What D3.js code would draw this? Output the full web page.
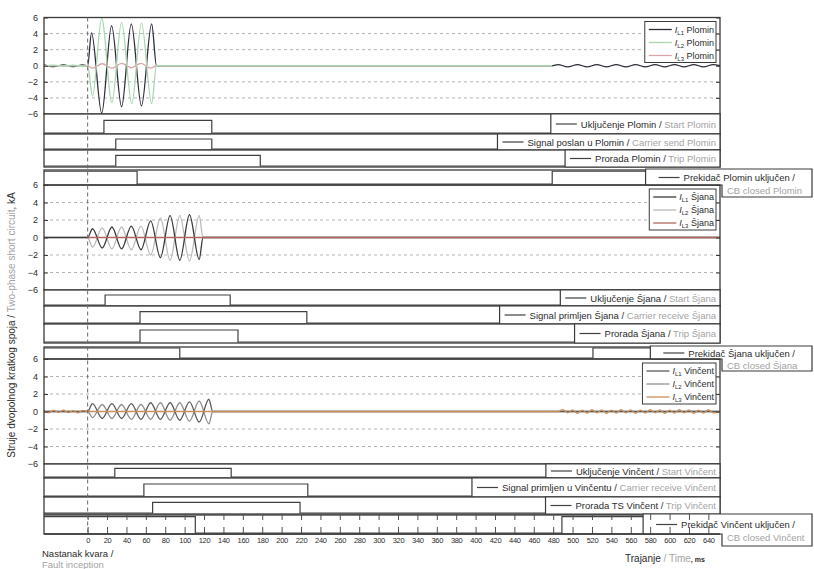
<!DOCTYPE html>
<html>
<head>
<meta charset="utf-8">
<script src="https://cdn.jsdelivr.net/npm/d3@7"></script>
<style>
body { margin:0; background:#fff; }
svg { font-family:'Liberation Sans', Arial, sans-serif; }
</style>
</head>
<body>
<svg id="chart" width="814" height="569"></svg>
<script>

// time axis, ms
var timeDomain = [-45, 652];
var timeTicks = [0,20,40,60,80,100,120,140,160,180,200,220,240,260,280,300,320,340,360,380,400,420,440,460,480,500,520,540,560,580,600,620,640];

// current axis, kA
var currentDomain = [-6, 6];
var currentTicks = [-6,-4,-2,0,2,4,6];
var currentGrid = [-4,-2,2,4];

var stationNames = ['Plomin','Šjana','Vinčent'];
var phaseLabels = ['L1','L2','L3'];

// currents [ms, kA] - half-cycle peaks
var plominL1 = [[-45,0.12],[-35,-0.12],[-25,0.12],[-15,-0.12],[-5,0.12],[0,0],[4,4.1],[14.5,-5.9],[24.7,5.0],[35,-5.1],[45,5.2],[55.5,-5.0],[66,5.2],[71,0],[479,0],[485,0.15],[495,-0.15],[505,0.15],[515,-0.15],[525,0.15],[535,-0.15],[545,0.15],[555,-0.15],[565,0.15],[575,-0.15],[585,0.15],[595,-0.15],[605,0.15],[615,-0.15],[625,0.15],[635,-0.15],[645,0.15],[652,0]];
var plominL2 = [[-45,-0.06],[-35,0.06],[-25,-0.06],[-15,0.06],[-5,-0.06],[0,0],[5,-3.8],[14.5,5.9],[25,-4.6],[35,5.4],[45.5,-4.7],[55.5,5.3],[66,-4.7],[71,0],[479,0]];
var plominL3 = [[-45,0],[0,0],[5,-0.3],[15,0.25],[25,-0.3],[35,0.3],[45,-0.25],[55,0.3],[65,-0.3],[71,0],[479,0]];

var sjanaL1 = [[-45,0],[0,0],[5,1.0],[15,-1.2],[25,1.2],[35,-1.3],[45,1.3],[55,-1.4],[65,1.9],[75,-2.3],[85,2.5],[95,-2.6],[105,2.6],[115,-2.5],[119,0],[652,0]];
var sjanaL2 = [[-45,0],[0,0],[5,-1.1],[15,1.1],[25,-1.3],[35,1.2],[45,-1.4],[55,1.3],[65,-2.0],[75,2.2],[85,-2.6],[95,2.5],[105,-2.7],[115,2.5],[119,0],[652,0]];
var sjanaL3 = [[0,0],[652,0]];

var vincentL1 = [[-45,0],[0,0],[5,0.9],[15,-0.8],[25,0.9],[35,-0.8],[45,0.9],[55,-0.9],[65,1.0],[75,-0.9],[85,1.0],[95,-1.0],[105,1.1],[115,-1.2],[125,1.4],[129,0],[652,0]];
var vincentL2 = [[-45,0],[0,0],[5,-0.7],[15,0.8],[25,-0.8],[35,0.8],[45,-0.9],[55,0.8],[65,-0.9],[75,1.0],[85,-1.0],[95,1.0],[105,-1.1],[115,1.2],[125,-1.4],[129,0],[652,0]];
var vincentL3 = [[-45,0.1],[-40,-0.15],[-35,0.12],[-30,-0.1],[-25,0.15],[-20,-0.12],[-15,0.1],[-10,-0.15],[-5,0.12],[0,0],[129,0],[485,0],[490,0.2],[495,-0.15],[500,0.18],[505,-0.2],[510,0.15],[515,-0.18],[520,0.2],[525,-0.15],[530,0.18],[535,-0.2],[540,0.15],[545,-0.18],[550,0.2],[555,-0.15],[560,0.18],[565,-0.2],[570,0.15],[575,-0.18],[580,0.2],[585,-0.15],[590,0.18],[595,-0.2],[600,0.15],[605,-0.18],[610,0.2],[615,-0.15],[620,0.18],[625,-0.2],[630,0.15],[635,-0.18],[640,0.2],[645,-0.15],[652,0]];

// binary signals [ms, state] - state holds until next change
var plominStart   = [[-45,0],[16.8,1],[128,0],[652,0]];
var plominCarrier = [[-45,0],[29,1],[128,0],[652,0]];
var plominTrip    = [[-45,0],[29,1],[178,0],[652,0]];
var plominBreaker = [[-45,1],[51,0],[479,1],[652,1]];

var sjanaStart    = [[-45,0],[18,1],[147,0],[652,0]];
var sjanaCarrier  = [[-45,0],[54,1],[226,0],[652,0]];
var sjanaTrip     = [[-45,0],[54,1],[155,0],[652,0]];
var sjanaBreaker  = [[-45,1],[95,0],[521,1],[652,1]];

var vincentStart   = [[-45,0],[28,1],[148,0],[652,0]];
var vincentCarrier = [[-45,0],[58,1],[227,0],[652,0]];
var vincentTrip    = [[-45,0],[67,1],[219,0],[652,0]];
var vincentBreaker = [[-45,1],[111,0],[489,1],[652,1]];

// signal legend texts: croatian / english
var plominLabelsHr  = ['Uključenje Plomin','Signal poslan u Plomin','Prorada Plomin','Prekidač Plomin uključen /'];
var plominLabelsEn  = ['Start Plomin','Carrier send Plomin','Trip Plomin','CB closed Plomin'];
var sjanaLabelsHr   = ['Uključenje Šjana','Signal primljen  Šjana','Prorada Šjana','Prekidač Šjana uključen /'];
var sjanaLabelsEn   = ['Start Šjana','Carrier receive Šjana','Trip Šjana','CB closed Šjana'];
var vincentLabelsHr = ['Uključenje Vinčent','Signal primljen u Vinčentu','Prorada TS Vinčent','Prekidač Vinčent uključen /'];
var vincentLabelsEn = ['Start Vinčent','Carrier receive Vinčent','Trip Vinčent','CB closed Vinčent'];


var panels = [
  {station:stationNames[0], currents:[plominL1,plominL2,plominL3], colors:['#2d2d3a','#a8d6b0','#dca2a6'], draw:[0,2,1],
   signals:[plominStart,plominCarrier,plominTrip,plominBreaker], hr:plominLabelsHr, en:plominLabelsEn},
  {station:stationNames[1], currents:[sjanaL1,sjanaL2,sjanaL3], colors:['#3a3a3a','#b9b9b9','#b2655e'], draw:[1,0,2],
   signals:[sjanaStart,sjanaCarrier,sjanaTrip,sjanaBreaker], hr:sjanaLabelsHr, en:sjanaLabelsEn},
  {station:stationNames[2], currents:[vincentL1,vincentL2,vincentL3], colors:['#5a5a5a','#8e8e8e','#c98f5c'], draw:[1,0,2],
   signals:[vincentStart,vincentCarrier,vincentTrip,vincentBreaker], hr:vincentLabelsHr, en:vincentLabelsEn}
];

// layout
var plotLeft = 44, plotRight = 720, legendRight = 812;
var layout = [
  {analog:[17.5,114], strips:[[114,134],[134,150],[150,167],[170,185]]},
  {analog:[185,290],  strips:[[290,306],[306,324],[324,343],[347,359]]},
  {analog:[359,464],  strips:[[464,478],[478,497],[497,514],[515,534]]}
];
var axisY = 534;

var colorFrame = '#3a3a3a';
var colorGrid = '#b4b4b4';
var colorText = '#2b2b2b';
var colorGrey = '#a3a3a3';

var svg = d3.select('#chart');

var x = d3.scaleLinear()
          .domain(timeDomain)
          .range([plotLeft, plotRight]);


panels.forEach(function(p, i) {

var L = layout[i];
var g = svg.append('g');

var y = d3.scaleLinear()
          .domain(currentDomain)
          .range([L.analog[1], L.analog[0]]);

// grid
g.selectAll('line.grid')
 .data(currentGrid)
 .join('line')
 .attr('class','grid')
 .attr('x1',plotLeft)
 .attr('x2',plotRight)
 .attr('y1',function(d){ return y(d); })
 .attr('y2',function(d){ return y(d); })
 .attr('stroke',colorGrid)
 .attr('stroke-width',1)
 .attr('stroke-dasharray','3,3');

// traces
var trace = d3.line()
              .x(function(d){ return x(d[0]); })
              .y(function(d){ return y(d[1]); })
              .curve(d3.curveMonotoneX);
p.draw.forEach(function(k) {
  g.append('path')
   .datum(p.currents[k])
   .attr('d',trace)
   .attr('fill','none')
   .attr('stroke',p.colors[k])
   .attr('stroke-width',1.3);
});

// axes
var left = g.append('g')
            .attr('transform','translate('+plotLeft+',0)')
            .call(d3.axisLeft(y).tickValues(currentTicks).tickSize(-4).tickPadding(6).tickFormat(d3.format('d')));
var right = g.append('g')
             .attr('transform','translate('+plotRight+',0)')
             .call(d3.axisRight(y).tickValues(currentTicks).tickSize(-4).tickFormat(''));
[left,right].forEach(function(a) {
  a.select('.domain').remove();
  a.selectAll('line').attr('stroke',colorFrame);
  a.selectAll('text').style('font-size','9px').attr('fill',colorText);
});

g.append('rect')
 .attr('x',plotLeft)
 .attr('y',L.analog[0])
 .attr('width',plotRight-plotLeft)
 .attr('height',L.analog[1]-L.analog[0])
 .attr('fill','none')
 .attr('stroke',colorFrame)
 .attr('stroke-width',1.3);

// current legend
var lg = g.append('g');
var lgBox = lg.append('rect')
              .attr('fill','#fff')
              .attr('stroke',colorFrame)
              .attr('stroke-width',1);
var lgTexts = [];
phaseLabels.forEach(function(ph, k) {
  var ly = L.analog[0] + 12 + k*13;
  var t = lg.append('text')
            .attr('y',ly+3)
            .attr('text-anchor','end')
            .style('font-size','9px')
            .attr('fill',colorText);
  t.append('tspan').text('I').style('font-style','italic');
  t.append('tspan').text(ph).style('font-size','6px').attr('dy',2);
  t.append('tspan').text(' '+p.station).attr('dy',-2);
  t.attr('x',plotRight-6);
  lgTexts.push(t);
  lg.append('line')
    .attr('class','sample')
    .attr('y1',ly)
    .attr('y2',ly)
    .attr('stroke',p.colors[k])
    .attr('stroke-width',1.3);
});
var maxW = d3.max(lgTexts, function(t){ return t.node().getComputedTextLength(); });
lg.selectAll('line.sample')
  .attr('x1',plotRight-6-maxW-26)
  .attr('x2',plotRight-6-maxW-3);
lgBox.attr('x',plotRight-6-maxW-30)
     .attr('y',L.analog[0]+4)
     .attr('width',maxW+32)
     .attr('height',41);

// binary signal strips
L.strips.forEach(function(s, j) {
  var isBreaker = (j == 3);
  var ys = d3.scaleLinear()
             .domain([0, isBreaker ? 1.1 : 1.5])
             .range([s[1]-1, s[0]]);

  g.append('rect')
   .attr('x',plotLeft)
   .attr('y',s[0])
   .attr('width',plotRight-plotLeft)
   .attr('height',s[1]-s[0])
   .attr('fill','#fff')
   .attr('stroke',colorFrame)
   .attr('stroke-width',1.3);

  g.append('path')
   .datum(p.signals[j])
   .attr('d',d3.line()
               .x(function(d){ return x(d[0]); })
               .y(function(d){ return ys(d[1]); })
               .curve(d3.curveStepAfter))
   .attr('fill','none')
   .attr('stroke','#404040')
   .attr('stroke-width',1.2);

  var sg = g.append('g');
  var box = sg.append('path')
              .attr('fill','#fff')
              .attr('stroke',colorFrame)
              .attr('stroke-width',1.2);
  var cy = (s[0]+s[1])/2;
  var t = sg.append('text')
            .attr('y',cy+3.5)
            .style('font-size','9.5px');
  t.append('tspan').text(p.hr[j]).attr('fill',colorText);
  if (!isBreaker) {
    t.append('tspan').text(' / ').attr('fill',colorText);
    t.append('tspan').text(p.en[j]).attr('fill',colorGrey);
  }
  var w = t.node().getComputedTextLength();
  var boxLeft, tx;
  if (!isBreaker) {
    tx = plotRight - 4 - w;
    boxLeft = tx - 30;
    box.attr('d','M'+boxLeft+','+s[0]+'H'+plotRight+'V'+s[1]+'H'+boxLeft+'Z');
  } else {
    tx = legendRight - 17 - w;
    boxLeft = tx - 38;
    var bottom = s[1] + 12;
    box.attr('d','M'+boxLeft+','+(s[0]-1)+'H'+legendRight+'V'+bottom+'H'+(plotRight+2)+'V'+s[1]+'H'+boxLeft+'Z');
    sg.append('text')
      .text(p.en[j])
      .attr('x',plotRight+7)
      .attr('y',cy+16)
      .attr('fill',colorGrey)
      .style('font-size','9.5px');
  }
  t.attr('x',tx);
  sg.append('line')
    .attr('x1',tx-25)
    .attr('x2',tx-4)
    .attr('y1',cy)
    .attr('y2',cy)
    .attr('stroke','#404040')
    .attr('stroke-width',1.2);
});

});


// time axis: ticks in the last strip and under it
var xAxis = svg.append('g')
               .attr('transform','translate(0,'+axisY+')')
               .call(d3.axisBottom(x).tickValues(timeTicks).tickSize(-7).tickPadding(4));
xAxis.select('.domain').remove();
xAxis.selectAll('line').attr('stroke','#505050');
xAxis.selectAll('text')
     .style('font-size','7.5px')
     .style('letter-spacing','-0.3px')
     .attr('fill',colorText);

var xAxisUpper = svg.append('g')
                    .attr('transform','translate(0,514)')
                    .call(d3.axisBottom(x).tickValues(timeTicks).tickSize(6).tickFormat(''));
xAxisUpper.select('.domain').remove();
xAxisUpper.selectAll('line').attr('stroke','#505050');

svg.append('line')
   .attr('x1',plotLeft)
   .attr('x2',plotRight)
   .attr('y1',axisY)
   .attr('y2',axisY)
   .attr('stroke',colorFrame)
   .attr('stroke-width',1.3);

// fault inception marker
svg.append('line')
   .attr('x1',x(0))
   .attr('x2',x(0))
   .attr('y1',layout[0].analog[0])
   .attr('y2',axisY)
   .attr('stroke','#6a6a6a')
   .attr('stroke-width',1)
   .attr('stroke-dasharray','4,3');


// titles
var yTitle = svg.append('text')
                .attr('transform','translate(15,325) rotate(-90)')
                .attr('text-anchor','middle')
                .style('font-size','10px');
yTitle.append('tspan').text('Struje dvopolnog kratkog spoja / ').attr('fill',colorText);
yTitle.append('tspan').text('Two-phase short circuit').attr('fill',colorGrey);
yTitle.append('tspan').text(', kA').attr('fill',colorText);

svg.append('text')
   .text('Nastanak kvara /')
   .attr('x',42)
   .attr('y',557)
   .attr('fill',colorText)
   .style('font-size','9.5px');
svg.append('text')
   .text('Fault inception')
   .attr('x',42)
   .attr('y',568)
   .attr('fill',colorGrey)
   .style('font-size','9.5px');

var xTitle = svg.append('text')
                .attr('x',625)
                .attr('y',562)
                .style('font-size','10px');
xTitle.append('tspan').text('Trajanje').attr('fill',colorText);
xTitle.append('tspan').text(' / Time').attr('fill',colorGrey);
xTitle.append('tspan').text(', ms').attr('fill',colorText).style('font-size','7px').style('font-weight','bold');

</script>
</body>
</html>
